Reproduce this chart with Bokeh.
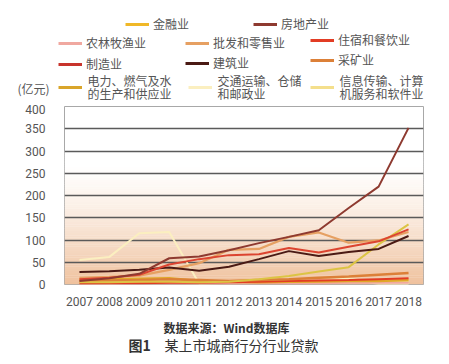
from bokeh.plotting import figure
from bokeh.layouts import column
from bokeh.models import Legend, LegendItem, Label, BoxAnnotation, FixedTicker, Range1d
from bokeh.embed import file_html
from bokeh.resources import INLINE

years = list(range(2007, 2019))
y_ticks = [0, 50, 100, 150, 200, 250, 300, 350, 400]

finance = [5, 5, 6, 6, 5, 6, 12, 19, 29, 39, 90, 135]
real_estate = [8, 14, 24, 59, 63, 77, 93, 107, 122, 172, 220, 352]
agriculture = [1, 1, 2, 2, 2, 2, 3, 3, 3, 4, 4, 4]
wholesale = [15, 17, 20, 33, 48, 78, 80, 107, 117, 94, 99, 118]
hospitality = [2, 3, 3, 4, 4, 5, 6, 8, 9, 10, 12, 14]
manufacturing = [12, 15, 22, 45, 57, 66, 68, 82, 72, 85, 97, 124]
construction = [28, 30, 33, 38, 31, 40, 57, 75, 64, 73, 80, 109]
mining = [8, 9, 10, 12, 10, 8, 10, 12, 15, 18, 22, 26]
utilities = [12, 12, 13, 14, 8, 6, 5, 6, 7, 8, 8, 10]
transport = [55, 62, 115, 118, 2, 4, 4, 5, 8, 14, 1, 1]
it_services = [3, 3, 4, 4, 3, 3, 4, 5, 6, 7, 7, 8]

CJK = "Noto Sans CJK SC"
W = 449


def blank_fig(h):
    f = figure(width=W, height=h, x_range=Range1d(0, W), y_range=Range1d(0, h),
               output_backend="svg", toolbar_location=None,
               min_border=0, min_border_left=0, min_border_right=0,
               min_border_top=0, min_border_bottom=0, frame_align=False)
    f.axis.visible = False
    f.grid.visible = False
    f.outline_line_color = None
    f.background_fill_color = "white"
    f.border_fill_color = "white"
    return f


# ---------- main chart ----------
p = figure(width=W, height=204, x_range=(2006.5, 2018.5), y_range=(0, 400),
           output_backend="svg", toolbar_location=None, frame_align=False,
           min_border_left=64, min_border_right=26, min_border_top=2, min_border_bottom=22)
p.background_fill_color = "white"
p.border_fill_color = "white"
p.outline_line_color = "#a8a8a8"
p.outline_line_width = 1

top_rgb = (255, 255, 255)
bot_rgb = (239, 193, 157)
for i in range(60):
    b = i * 5
    mid = b + 2.5
    t = max(0.0, (270 - mid) / 270) ** 1.3
    c = tuple(int(round(top_rgb[k] * (1 - t) + bot_rgb[k] * t)) for k in range(3))
    p.add_layout(BoxAnnotation(bottom=b, top=b + 5.6, fill_color="#%02x%02x%02x" % c,
                               fill_alpha=1, line_color=None, level="image"))

p.xgrid.visible = False
p.ygrid.ticker = FixedTicker(ticks=y_ticks)
p.ygrid.grid_line_color = "#5a5a5a"
p.ygrid.grid_line_width = 1.3

for ax in (p.xaxis[0], p.yaxis[0]):
    ax.axis_line_color = None
    ax.major_tick_line_color = None
    ax.minor_tick_line_color = None
    ax.major_label_text_font = "Roboto"
    ax.major_label_text_font_size = "12px"
    ax.major_label_text_color = "#555555"
p.xaxis.ticker = FixedTicker(ticks=years)
p.yaxis.ticker = FixedTicker(ticks=y_ticks)
p.xaxis.major_label_standoff = 6
p.yaxis.major_label_standoff = 13

series = [
    (transport, "#fbefc0", 2),
    (it_services, "#f4df8c", 2),
    (agriculture, "#f0a8a0", 2),
    (utilities, "#e0a828", 2.5),
    (hospitality, "#e23c24", 2),
    (mining, "#dc8038", 2.5),
    (finance, "#dcc444", 2),
    (wholesale, "#e6a062", 2.2),
    (construction, "#4a1a14", 2),
    (manufacturing, "#dc4430", 2),
    (real_estate, "#8e3a30", 2),
]
for vals, col, w in series:
    p.line(years, vals, line_color=col, line_width=w)

# ---------- legend area ----------
LH = 104
lf = blank_fig(LH)
legend_specs = [
    ("金融业", finance, "#f0b828", 125, 25),
    ("房地产业", real_estate, "#8e3a30", 253, 25),
    ("农林牧渔业", agriculture, "#f0a8a0", 58, 44),
    ("批发和零售业", wholesale, "#e6a062", 185, 44),
    ("住宿和餐饮业", hospitality, "#e23c24", 310, 41),
    ("制造业", manufacturing, "#c8342c", 58, 65),
    ("建筑业", construction, "#4a1a14", 185, 64),
    ("采矿业", mining, "#dc8038", 310, 61),
    ((["电力、燃气及水", "的生产和供应业"]), utilities, "#d9a52a", 58, 87),
    ((["交通运输、仓储", "和邮政业"]), transport, "#fbefc0", 188, 87),
    ((["信息传输、计算", "机服务和软件业"]), it_services, "#f4df8c", 310, 87),
]
for label, vals, col, x0, yc in legend_specs:
    # proxy renderer: its data lies outside this blank panel's range, only the swatch shows
    r = lf.line(years, vals, line_color=col, line_width=3)
    two = isinstance(label, list)
    h = 14
    leg = Legend(items=[LegendItem(label=(" " if two else label), renderers=[r])],
                 location=(x0, LH - yc - h / 2),
                 padding=0, margin=0, spacing=0,
                 border_line_color=None, background_fill_alpha=0,
                 glyph_width=24, glyph_height=h, label_height=h, label_standoff=4,
                 label_text_font=CJK, label_text_font_size="12px",
                 label_text_color="#555555")
    lf.add_layout(leg)
    if two:
        for k, line_text in enumerate(label):
            lf.add_layout(Label(x=x0 + 29, y=LH - (yc - 7 + 13 * k), x_units="screen",
                                y_units="screen", text=line_text, text_font=CJK,
                                text_font_size="12px", text_color="#555555",
                                text_baseline="middle", text_align="left"))
lf.add_layout(Label(x=17, y=LH - 88, x_units="screen", y_units="screen", text="(亿元)",
                    text_font=CJK, text_font_size="12px", text_color="#555555",
                    text_baseline="middle", text_align="left"))

# ---------- caption area ----------
CH = 56
cf = blank_fig(CH)
cf.add_layout(Label(x=226, y=364 - 327, x_units="screen", y_units="screen",
                    text="数据来源：Wind数据库", text_font=CJK, text_font_size="12px",
                    text_font_style="bold", text_color="#333333",
                    text_baseline="middle", text_align="center"))
cf.add_layout(Label(x=128, y=364 - 344, x_units="screen", y_units="screen",
                    text="图1", text_font=CJK, text_font_size="14px",
                    text_font_style="bold", text_color="#333333",
                    text_baseline="middle", text_align="left"))
cf.add_layout(Label(x=164, y=364 - 344, x_units="screen", y_units="screen",
                    text="某上市城商行分行业贷款", text_font=CJK, text_font_size="14px",
                    text_color="#333333",
                    text_baseline="middle", text_align="left"))

layout = column(lf, p, cf, spacing=0)
open("out.html", "w").write(file_html(layout, INLINE))
